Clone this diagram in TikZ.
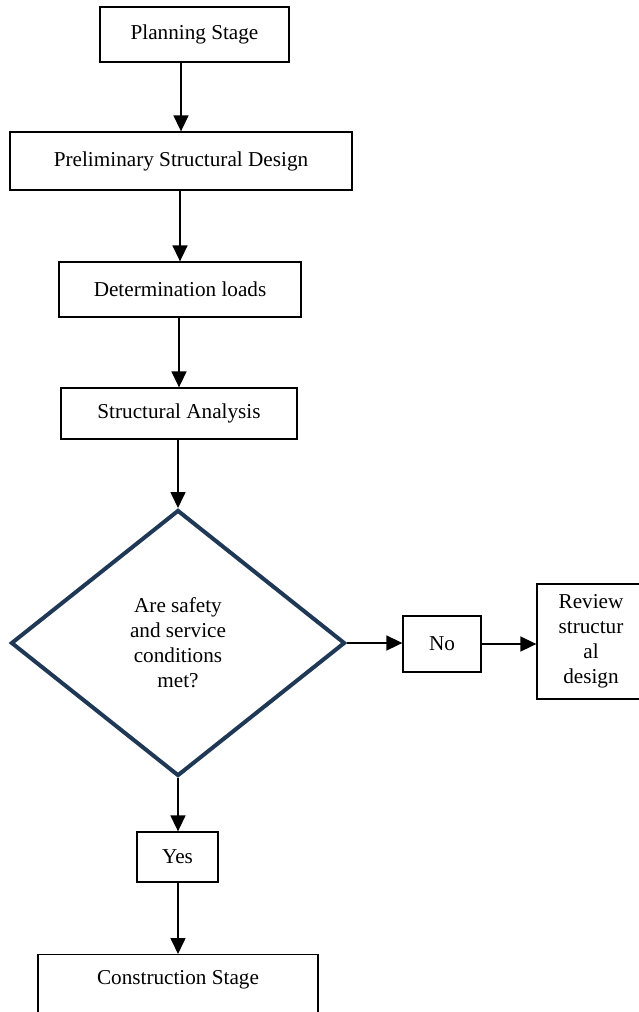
\documentclass[tikz,border=0pt]{standalone}
\usepackage{fontspec}
\setmainfont{Liberation Serif}
\usetikzlibrary{shapes.geometric,arrows.meta}
\definecolor{decnavy}{RGB}{31,56,86}

\begin{document}
\begin{tikzpicture}[x=1pt, y=-1pt,
    box/.style={rectangle, draw, line width=1.3pt, align=center,
                font=\fontsize{21.2}{25}\selectfont, inner sep=0pt},
    decision/.style={diamond, draw=decnavy, line width=4pt, align=center,
                font=\fontsize{21.2}{25}\selectfont, inner sep=0pt},
    arr/.style={-{Triangle[length=16pt,width=15pt]}, line width=1.6pt}]

  \useasboundingbox (0,0) rectangle (639,1012);
  \clip (0,0) rectangle (639,1012);

  % Main stages
  \node[box, minimum width=189pt, minimum height=55pt] (plan) at (194.5,34.5) {Planning Stage};
  \node[box, minimum width=342pt, minimum height=58pt] (prelim) at (181,161) {Preliminary Structural Design};
  \node[box, minimum width=242pt, minimum height=55pt] (loads) at (180,289.5) {Determination loads};
  \node[box, minimum width=236pt, minimum height=51pt] (analysis) at (179,413.5) {Structural Analysis};

  % Check
  \node[decision, minimum width=334pt, minimum height=266pt] (check) at (178,643)
    {Are safety\\and service\\conditions\\met?};

  % No branch
  \node[box, minimum width=78pt, minimum height=56pt] (no) at (442,644) {No};
  \node[box, minimum width=108pt, minimum height=115pt] (review) at (591,641.5)
    {Review\\structur\\al\\design};

  % Yes branch
  \node[box, minimum width=81pt, minimum height=50pt] (yes) at (177.5,857) {Yes};
  \node[box, minimum width=280pt, text depth=90pt, inner ysep=16pt, anchor=north] (cons) at (178,954)
    {Construction Stage};

  % Connections
  \draw[arr] (prelim.north |- plan.south) -- (prelim.north);
  \draw[arr] (loads.north |- prelim.south) -- (loads.north);
  \draw[arr] (analysis.north |- loads.south) -- (analysis.north);
  \draw[arr] (check.north |- analysis.south) -- (check.north);
  \draw[arr] (check.south) -- (check.south |- yes.north);
  \draw[arr] (check.south |- yes.south) -- (cons.north);
  \draw[arr] (check.east) -- (check.east -| no.west);
  \draw[arr] (no.east) -- (no.east -| review.west);

\end{tikzpicture}
\end{document}
